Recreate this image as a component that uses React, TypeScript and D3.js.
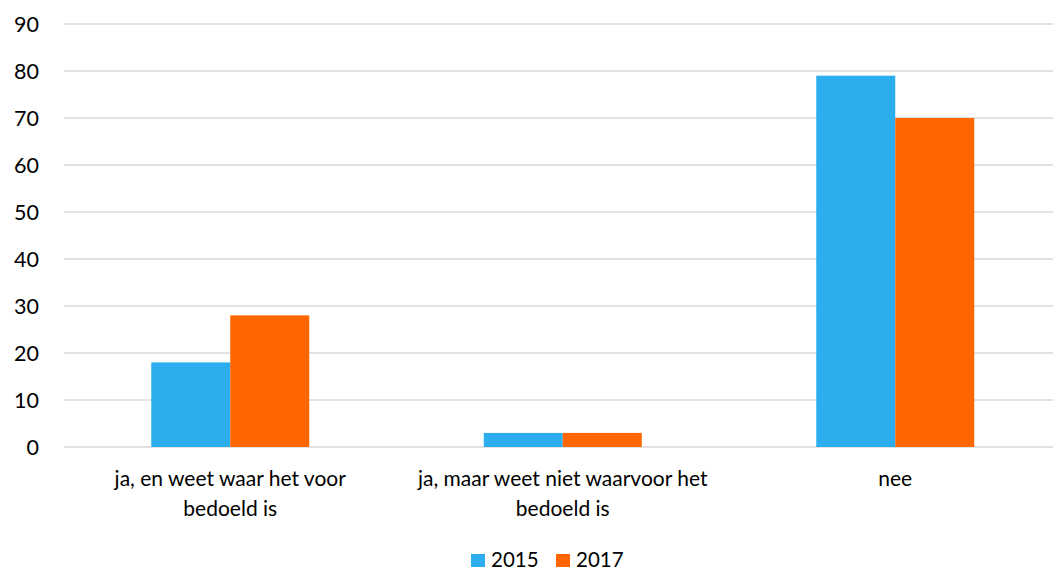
import React from "react";
import * as d3 from "d3";

const categories = [
  ["ja, en weet waar het voor", "bedoeld is"],
  ["ja, maar weet niet waarvoor het", "bedoeld is"],
  ["nee"],
];
const seriesNames = ["2015", "2017"];
const values2015 = [18, 3, 79];
const values2017 = [28, 3, 70];
const yTicks = [0, 10, 20, 30, 40, 50, 60, 70, 80, 90];
const colors = ["#2CAEEE", "#FF6600"];

const W = 1053;
const H = 570;
const FONT = "Lato, 'Open Sans', sans-serif";

export default function App() {
  const x = d3.scaleBand<number>().domain([0, 1, 2]).range([64, 1061.5]).paddingInner(0).paddingOuter(0);
  const y = d3.scaleLinear().domain([0, 90]).range([447, 24]);
  const barW = 79;
  const series = [values2015, values2017];
  return (
    <svg width={W} height={H} style={{ position: "absolute", left: 0, top: 0, background: "#fff" }}>
      {yTicks.map((t) => (
        <g key={t}>
          <line x1={64} x2={W} y1={y(t)} y2={y(t)} stroke="#D9D9D9" strokeWidth={1.5} />
          <text x={39} y={y(t)} dy="0.36em" textAnchor="end" fontFamily={FONT} fontSize={21.5} fill="#000">
            {t}
          </text>
        </g>
      ))}
      {series.map((vals, si) =>
        vals.map((v, ci) => {
          const cx = (x(ci) as number) + x.bandwidth() / 2;
          const bx = cx - barW + si * barW;
          return (
            <rect key={`${si}-${ci}`} x={bx} y={y(v)} width={barW} height={y(0) - y(v)} fill={colors[si]} />
          );
        })
      )}
      {categories.map((lines, ci) => {
        const cx = (x(ci) as number) + x.bandwidth() / 2;
        return (
          <text key={ci} textAnchor="middle" fontFamily={FONT} fontSize={21} fill="#000">
            {lines.map((l, li) => (
              <tspan key={li} x={cx} y={486 + li * 30}>
                {l}
              </tspan>
            ))}
          </text>
        );
      })}
      {seriesNames.map((n, i) => {
        const lx = 471 + i * 85;
        return (
          <g key={n}>
            <rect x={lx} y={554} width={14} height={13} fill={colors[i]} />
            <text x={lx + 20} y={567} fontFamily={FONT} fontSize={20.5} fill="#000">
              {n}
            </text>
          </g>
        );
      })}
    </svg>
  );
}
